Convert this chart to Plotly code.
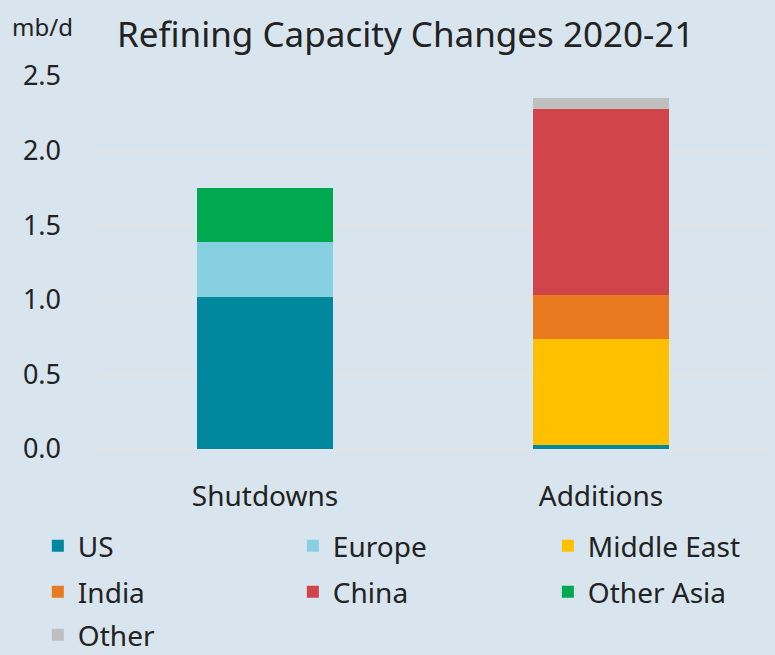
import plotly.graph_objects as go

# --------------------------------------------------
# Data (mb/d)
# --------------------------------------------------
categories = ["Shutdowns", "Additions"]
regions = ["US", "Europe", "Middle East", "India", "China", "Other Asia", "Other"]
us = [1.02, 0.03]
europe = [0.37, 0.0]
middle_east = [0.0, 0.71]
india = [0.0, 0.29]
china = [0.0, 1.25]
other_asia = [0.36, 0.0]
other = [0.0, 0.07]
colors = ["#00899E", "#86D0E2", "#FFC000", "#E97A1F", "#D1454A", "#00A84F", "#BFBFBF"]

series = [us, europe, middle_east, india, china, other_asia, other]
# legend rows: 3 entries per row, one legend object per row
legend_ids = ["legend", "legend", "legend", "legend2", "legend2", "legend2", "legend3"]

fig = go.Figure()
for name, vals, col, lg in zip(regions, series, colors, legend_ids):
    fig.add_trace(go.Bar(
        x=categories, y=vals, name=name, legend=lg,
        marker=dict(color=col, line=dict(width=0)),
    ))

bg = "#D8E4EE"
txt = "#222222"
plot_h = 655 - 76 - 206


def legend_row(py):
    # py: pixel y of the row centre
    return dict(orientation="h", x=-0.088, xanchor="left",
                y=(449 - py) / plot_h, yanchor="middle",
                entrywidth=210, entrywidthmode="pixels", traceorder="normal",
                font=dict(size=28, color=txt), itemwidth=30,
                bgcolor="rgba(0,0,0,0)")


fig.update_layout(
    barmode="stack",
    bargap=0.595,
    width=775, height=655,
    paper_bgcolor=bg, plot_bgcolor=bg,
    margin=dict(l=97, r=6, t=76, b=206, autoexpand=False),
    font=dict(family="Noto Sans", color=txt, size=24),
    title=dict(text="Refining Capacity Changes 2020-21", x=117 / 775, xanchor="left",
               xref="container", y=1 - 35 / 655, yanchor="middle",
               font=dict(size=35, color=txt)),
    legend=legend_row(546),
    legend2=legend_row(592),
    legend3=legend_row(635),
    annotations=[dict(text="mb/d", xref="paper", yref="paper", x=-0.13, y=1 + 49 / plot_h,
                      xanchor="left", yanchor="middle", showarrow=False,
                      font=dict(size=24, color=txt))],
)
fig.update_yaxes(range=[0, 2.5], dtick=0.5, tickformat=".1f", showgrid=True,
                 gridcolor="#E3E3E3", gridwidth=2, zeroline=True, zerolinecolor="#E3E3E3",
                 zerolinewidth=2, ticklabelstandoff=35, showline=False, automargin=False,
                 tickfont=dict(size=27))
fig.update_xaxes(showgrid=False, showline=False, ticklabelstandoff=28, automargin=False,
                 tickfont=dict(size=28))

# drop the default 8px page margin so the figure fills the window
fig.write_html("out.html", config={"displayModeBar": False},
               post_script="document.body.style.margin='0px';")
